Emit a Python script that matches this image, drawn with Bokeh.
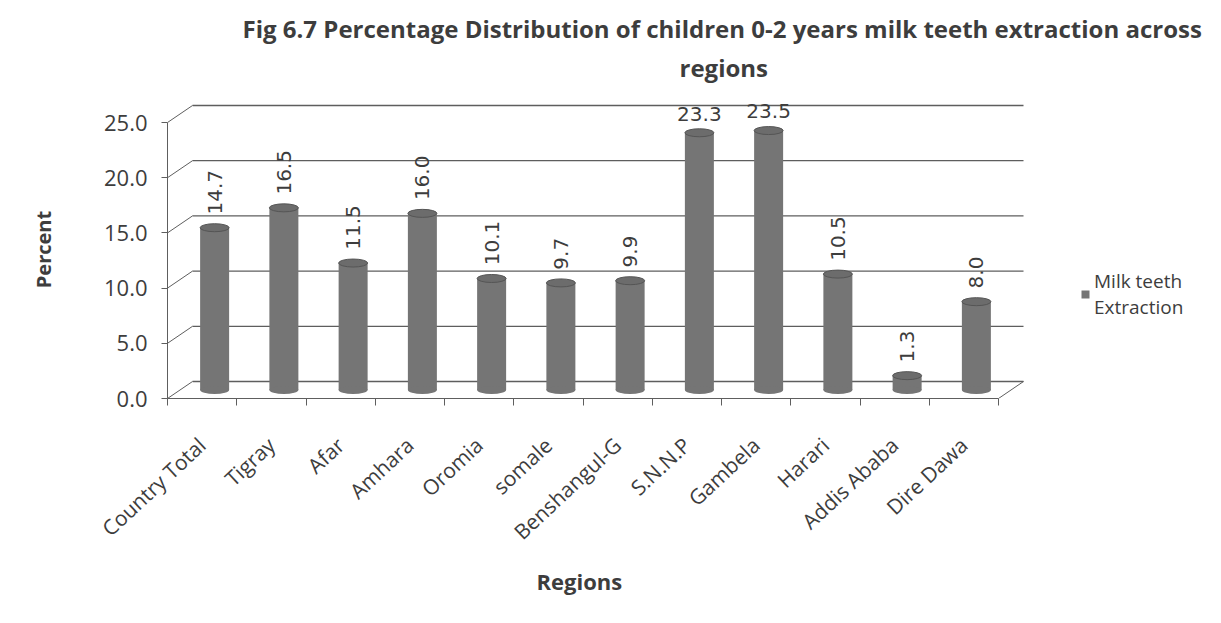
import math
from bokeh.plotting import figure
from bokeh.models import (FixedTicker, PrintfTickFormatter, Title, Legend, LegendItem,
                          ColumnDataSource, Range1d)
from bokeh.embed import file_html
from bokeh.resources import INLINE
from bokeh.core.properties import value

# ---------------- data ----------------
regions = ["Country Total", "Tigray", "Afar", "Amhara", "Oromia", "somale",
           "Benshangul-G", "S.N.N.P", "Gambela", "Harari", "Addis Ababa", "Dire Dawa"]
percent = [14.7, 16.5, 11.5, 16.0, 10.1, 9.7, 9.9, 23.3, 23.5, 10.5, 1.3, 8.0]
y_ticks = [0, 5, 10, 15, 20, 25]
series_name = "Milk teeth\nExtraction"
title_line1 = "Fig  6.7 Percentage Distribution of children 0-2 years milk teeth extraction across"
title_line2 = "regions"
x_title = "Regions"
y_title = "Percent"

# ---------------- styling / geometry ----------------
W, H = 1205, 607
LEFT, TOP, BOTTOM = 167, 100, 209
PX_X = 69.25          # pixels per category
PX_Y = 11.04          # pixels per percent
DX = 25 / PX_X        # 3D depth offset (x, data units)
DY = 17 / PX_Y        # 3D depth offset (y, data units)
TEXT = "#3d3d3d"
GRID = "#5e5e5e"
BAR = "#757575"
FONT = "Open Sans"

n = len(regions)
frame_w = W - LEFT
frame_h = H - TOP - BOTTOM

p = figure(width=W, height=H, output_backend="svg", toolbar_location=None,
           x_range=Range1d(0, frame_w / PX_X), y_range=Range1d(0, frame_h / PX_Y),
           min_border_left=LEFT, min_border_top=TOP, min_border_bottom=BOTTOM,
           min_border_right=0)
p.outline_line_color = None
p.xgrid.visible = False
p.ygrid.visible = False
p.background_fill_color = "white"
p.border_fill_color = "white"

# ---- back wall grid lines + depth connectors ----
p.segment(x0=[DX] * len(y_ticks), y0=[t + DY for t in y_ticks],
          x1=[n + DX] * len(y_ticks), y1=[t + DY for t in y_ticks],
          line_color=GRID, line_width=1.3)
p.segment(x0=[0] * len(y_ticks), y0=y_ticks,
          x1=[DX] * len(y_ticks), y1=[t + DY for t in y_ticks],
          line_color=GRID, line_width=1)
p.segment(x0=[n], y0=[0], x1=[n + DX], y1=[DY], line_color=GRID, line_width=1)

# ---- cylinders ----
centers = [i + 0.5 + DX / 2 for i in range(n)]
base = DY / 2
tops = [base + v for v in percent]
src = ColumnDataSource(dict(x=centers, top=tops, bottom=[base] * n, v=percent))
bw = 29 / PX_X
bars = p.vbar(x="x", top="top", bottom="bottom", width=bw, source=src,
              fill_color=BAR, line_color=None)
p.ellipse(x="x", y="bottom", width=bw, height=8, height_units="screen", source=src,
          fill_color=BAR, line_color=None)
p.ellipse(x="x", y="top", width=bw, height=8, height_units="screen", source=src,
          fill_color="#6c6c6c", line_color="#555555", line_width=1)

# ---- data labels ----
vert = [i for i, v in enumerate(percent) if v < 20]
horz = [i for i, v in enumerate(percent) if v >= 20]
p.text(x=[centers[i] for i in vert], y=[tops[i] + 1.2 for i in vert],
       text=[f"{percent[i]:.1f}" for i in vert], angle=math.pi / 2,
       text_align="left", text_baseline="middle", text_font=value("DejaVu Sans"),
       text_font_size="20px", text_color=TEXT)
p.text(x=[centers[i] for i in horz], y=[tops[i] + 1.1 for i in horz],
       text=[f"{percent[i]:.1f}" for i in horz],
       text_align="center", text_baseline="bottom", text_font=value("DejaVu Sans"),
       text_font_size="20px", text_color=TEXT)

# ---- axes ----
ya = p.yaxis[0]
ya.ticker = FixedTicker(ticks=y_ticks)
ya.formatter = PrintfTickFormatter(format="%.1f")
ya.bounds = (0, y_ticks[-1])
ya.axis_line_color = GRID
ya.major_tick_line_color = GRID
ya.major_tick_out = 6
ya.major_tick_in = 0
ya.minor_tick_line_color = None
ya.major_label_text_font = FONT
ya.major_label_text_font_size = "22px"
ya.major_label_text_color = TEXT
ya.major_label_standoff = 14
ya.axis_label = y_title
ya.axis_label_text_font = FONT
ya.axis_label_text_font_style = "bold"
ya.axis_label_text_font_size = "20px"
ya.axis_label_text_color = TEXT
ya.axis_label_standoff = 44

xa = p.xaxis[0]
xa.ticker = FixedTicker(ticks=[i + 0.5 for i in range(n)],
                        minor_ticks=list(range(n + 1)))
xa.major_label_overrides = {i + 0.5: r for i, r in enumerate(regions)}
xa.bounds = (0, n)
xa.axis_line_color = GRID
xa.major_tick_line_color = None
xa.minor_tick_line_color = GRID
xa.minor_tick_out = 7
xa.minor_tick_in = 0
xa.major_label_orientation = math.radians(43)
xa.major_label_text_font = FONT
xa.major_label_text_font_size = "21px"
xa.major_label_text_color = TEXT
xa.major_label_standoff = 36

# x-axis title, centred under the category axis
p.add_layout(Title(text=x_title, align="left", offset=369, text_font=FONT,
                   text_font_size="22px", text_font_style="bold", text_color=TEXT,
                   standoff=10), "below")

# ---- titles ----
p.add_layout(Title(text=title_line2, align="left", offset=512, text_font=FONT,
                   text_font_size="24px", text_font_style="bold", text_color=TEXT,
                   standoff=33), "above")
p.add_layout(Title(text=title_line1, align="left", offset=75, text_font=FONT,
                   text_font_size="24px", text_font_style="bold", text_color=TEXT,
                   standoff=-24), "above")

# ---- legend ----
legend = Legend(items=[LegendItem(label=series_name, renderers=[bars])],
                location=(913, 78), border_line_color=None,
                background_fill_alpha=0, glyph_width=10, glyph_height=10,
                label_text_font=FONT, label_text_font_size="19px",
                label_text_color=TEXT, label_standoff=4)
p.add_layout(legend)

open("out.html", "w").write(file_html(p, INLINE))
